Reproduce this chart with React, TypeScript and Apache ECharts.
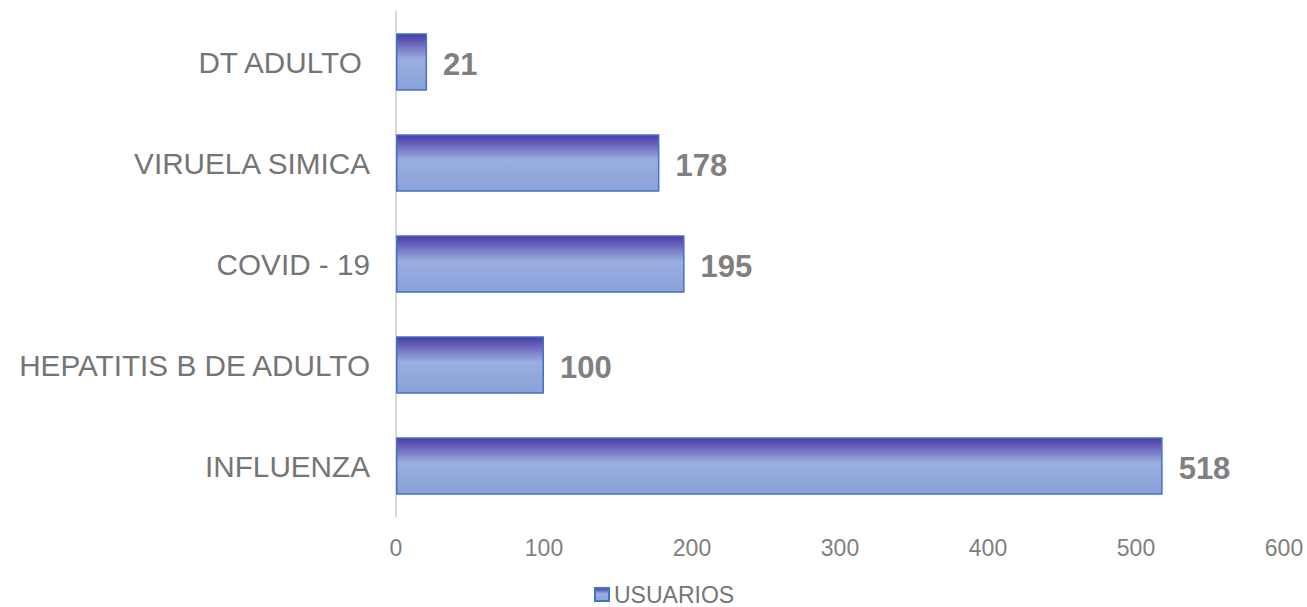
import React, { useEffect, useRef } from "react";
import * as echarts from "echarts";

const categories = ["INFLUENZA", "HEPATITIS B DE ADULTO", "COVID - 19", "VIRUELA SIMICA", "DT ADULTO "];
const usuarios = [518, 100, 195, 178, 21];
const seriesName = "USUARIOS";
const xMin = 0;
const xMax = 600;
const xInterval = 100;

export default function App() {
  const ref = useRef<HTMLDivElement>(null);
  useEffect(() => {
    document.body.style.margin = "0";
    const chart = echarts.init(ref.current!, undefined, { renderer: "svg" });
    const grad = new echarts.graphic.LinearGradient(0, 0, 0, 1, [
      { offset: 0, color: "#4a3aa8" },
      { offset: 0.15, color: "#6660b8" },
      { offset: 0.45, color: "#9aaee0" },
      { offset: 1, color: "#8aa2d9" },
    ]);
    chart.setOption({
      animation: false,
      textStyle: { fontFamily: "Liberation Sans, Arial, sans-serif" },
      grid: { left: 396, right: 23, top: 11.5, bottom: 90.5, containLabel: false },
      legend: {
        data: [seriesName],
        left: 594,
        top: 583,
        padding: 0,
        icon: "rect",
        itemWidth: 14,
        itemHeight: 13,
        itemGap: 10,
        textStyle: { fontSize: 23, lineHeight: 22, color: "#757575", fontFamily: "Liberation Sans, Arial, sans-serif" },
      },
      xAxis: {
        type: "value",
        min: xMin,
        max: xMax,
        interval: xInterval,
        axisLine: { show: false },
        axisTick: { show: false },
        splitLine: { show: false },
        axisLabel: { fontSize: 23, color: "#808080", margin: 20 },
      },
      yAxis: {
        type: "category",
        data: categories,
        axisLine: { show: true, lineStyle: { color: "#d9d9d9", width: 2 } },
        axisTick: { show: false },
        axisLabel: { fontSize: 29.7, color: "#757575", margin: 26 },
      },
      series: [
        {
          name: seriesName,
          type: "bar",
          data: usuarios,
          barCategoryGap: "43%",
          itemStyle: { color: grad, borderColor: "#4472c4", borderWidth: 1.5 },
          label: {
            show: true,
            position: "right",
            distance: 16,
            fontSize: 31,
            fontWeight: "bold",
            color: "#808080",
            offset: [0, 2],
          },
        },
      ],
    });
    return () => chart.dispose();
  }, []);
  return <div ref={ref} style={{ width: 1307, height: 607 }} />;
}
